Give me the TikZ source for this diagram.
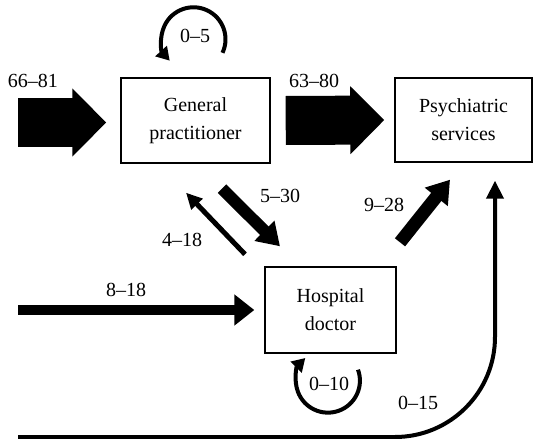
\documentclass[tikz,border=0pt]{standalone}
\usepackage{fontspec}
\setmainfont{Liberation Serif}
\usetikzlibrary{arrows.meta}
\begin{document}
\begin{tikzpicture}[x=1pt,y=1pt,
  box/.style={draw, line width=1.4pt, align=center, inner sep=0pt,
    font=\fontsize{20}{28}\selectfont},
  lbl/.style={inner sep=0pt, font=\fontsize{20}{24}\selectfont},
  fatflow/.style={line width=49pt, -{Triangle[width=66pt,length=34pt]}},
  gphd/.style={line width=12pt, -{Triangle[width=27pt,length=22pt]}},
  hdgp/.style={line width=5pt, -{Triangle[width=15pt,length=16pt]}},
  hdps/.style={line width=13pt, -{Triangle[width=28pt,length=22pt]}},
  inhd/.style={line width=10pt, -{Triangle[width=30pt,length=20pt]}},
  selfloop/.style={line width=4pt, -{Triangle[width=15pt,length=13pt]}},
  direct/.style={line width=4pt, rounded corners=100pt, -{Triangle[width=17pt,length=18pt]}}]
\useasboundingbox (0,0) rectangle (539,-439);

% the three services
\node[box, minimum width=149pt, minimum height=85pt] (gp) at (195.5,-120.5) {General\\practitioner};
\node[box, minimum width=137pt, minimum height=84pt] (ps) at (463.5,-120) {Psychiatric\\services};
\node[box, minimum width=131pt, minimum height=86pt] (hd) at (330.5,-310) {Hospital\\doctor};

% free ends of the incoming flows
\coordinate (srcgp) at (18,-122.5);
\coordinate (srchd) at (18,-310);
\coordinate (srcps) at (18,-437);

% main flows
\draw[fatflow] (srcgp) -- ([xshift=-14pt,yshift=-2pt]gp.west);
\draw[fatflow] ([xshift=15pt]gp.east) -- ([xshift=-10pt]ps.west);
\draw[inhd] (srchd) -- ([xshift=-10pt]hd.west);

% flows between the general practitioner and the hospital doctor
\draw[gphd] ([shift={(26.5,-25)}]gp.south) -- ([shift={(-50.5,20)}]hd.north);
\draw[hdgp] ([shift={(-85.5,12)}]hd.north) -- ([shift={(-9.5,-29)}]gp.south);

% hospital doctor to psychiatric services
\draw[hdps] ([shift={(69.5,24)}]hd.north) -- ([shift={(-13.5,-17)}]ps.south);

% direct route to psychiatric services
\draw[direct] (srcps) -| ([shift={(31.5,-18)}]ps.south);

% self loops
\draw[selfloop] ([shift={(27,24.5)}]gp.north) arc[start angle=-25, end angle=222, radius=32];
\draw[selfloop] ([shift={(27.5,-16)}]hd.south) arc[start angle=20, end angle=-225, radius=32];

% flow labels
\node[lbl] (l1) at (33,-81) {66–81};
\node[lbl] (l2) at (314,-81) {63–80};
\node[lbl] (l3) at (195,-36) {0–5};
\node[lbl] (l4) at (280,-196) {5–30};
\node[lbl] (l5) at (182,-240) {4–18};
\node[lbl] (l6) at (384,-205) {9–28};
\node[lbl] (l7) at (126,-290) {8–18};
\node[lbl] (l8) at (418,-403) {0–15};
\node[lbl] (l9) at (329,-384) {0–10};
\end{tikzpicture}
\end{document}
